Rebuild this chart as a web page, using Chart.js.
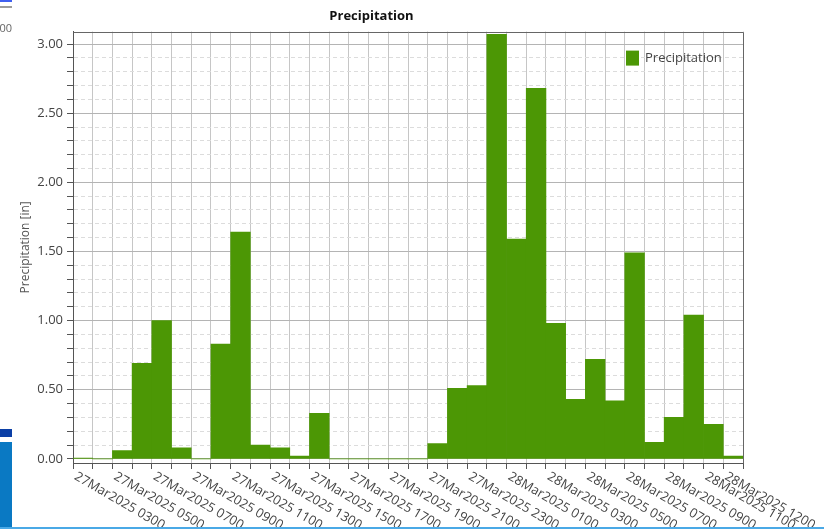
<!DOCTYPE html>
<html lang="en">
<head>
  <meta charset="UTF-8" />
  <title>Precipitation</title>
  <script src="https://cdn.jsdelivr.net/npm/chart.js"></script>
  <style>
    body {
      margin: 0;
      padding: 0;
      background: #fff;
      width: 824px;
      height: 529px;
      overflow: hidden;
      position: relative;
      font-family: 'Open Sans', sans-serif;
    }
    #wrap {
      position: absolute;
      left: 0;
      top: 0;
      width: 816px;
      height: 529px;
    }
    /* bits of neighbouring windows visible in the screenshot */
    .edge { position: absolute; }
    #edgeTopBlue { left: 0; top: 0; width: 12px; height: 2px; background: #3f5ff0; }
    #edgeTopGray { left: 0; top: 6px; width: 12px; height: 2px; background: #9c9c9c; }
    #edgeText { left: 0; top: 20px; width: 12px; overflow: hidden; font-size: 11px; color: #666; direction: rtl; }
    #edgeDark { left: 0; top: 429px; width: 12px; height: 8px; background: #0b3fa6; }
    #edgeBlue { left: 0; top: 442px; width: 12px; height: 87px; background: #0a79c3; }
    #edgeBottom { left: 0; top: 527px; width: 824px; height: 2px; background: #4aa9e6; }
  </style>
</head>
<body>
  <div id="wrap"><canvas id="precipChart"></canvas></div>

  <div class="edge" id="edgeTopBlue"></div>
  <div class="edge" id="edgeTopGray"></div>
  <div class="edge" id="edgeText">00</div>
  <div class="edge" id="edgeDark"></div>
  <div class="edge" id="edgeBlue"></div>
  <div class="edge" id="edgeBottom"></div>

  <script>
    // hour boundaries; bar i covers hourMarks[i] .. hourMarks[i+1]
    const hourMarks = [
      '27Mar2025 0200', '27Mar2025 0300', '27Mar2025 0400', '27Mar2025 0500', '27Mar2025 0600',
      '27Mar2025 0700', '27Mar2025 0800', '27Mar2025 0900', '27Mar2025 1000', '27Mar2025 1100',
      '27Mar2025 1200', '27Mar2025 1300', '27Mar2025 1400', '27Mar2025 1500', '27Mar2025 1600',
      '27Mar2025 1700', '27Mar2025 1800', '27Mar2025 1900', '27Mar2025 2000', '27Mar2025 2100',
      '27Mar2025 2200', '27Mar2025 2300', '28Mar2025 0000', '28Mar2025 0100', '28Mar2025 0200',
      '28Mar2025 0300', '28Mar2025 0400', '28Mar2025 0500', '28Mar2025 0600', '28Mar2025 0700',
      '28Mar2025 0800', '28Mar2025 0900', '28Mar2025 1000', '28Mar2025 1100', '28Mar2025 1200'
    ];

    const labeledHours = [
      '27Mar2025 0300', '27Mar2025 0500', '27Mar2025 0700', '27Mar2025 0900', '27Mar2025 1100',
      '27Mar2025 1300', '27Mar2025 1500', '27Mar2025 1700', '27Mar2025 1900', '27Mar2025 2100',
      '27Mar2025 2300', '28Mar2025 0100', '28Mar2025 0300', '28Mar2025 0500', '28Mar2025 0700',
      '28Mar2025 0900', '28Mar2025 1100', '28Mar2025 1200'
    ];

    const precipitation = [
      0.005, 0, 0.06, 0.69, 1.00, 0.08, 0, 0.83, 1.64, 0.10,
      0.08, 0.02, 0.33, 0, 0, 0, 0, 0, 0.11, 0.51,
      0.53, 3.07, 1.59, 2.68, 0.98, 0.43, 0.72, 0.42, 1.49, 0.12,
      0.30, 1.04, 0.25, 0.02
    ];

    const yTicks = { min: -0.03, max: 3.09, minor: 0.1, major: 0.5 };

    const barColor = '#4c9705';

    const isMajor = v => Math.abs(v / yTicks.major - Math.round(v / yTicks.major)) < 1e-6;

    // x labels start at the tick and run down to the right; legend sits inside the plot
    const extras = {
      id: 'extras',
      afterDraw(chart) {
        const xs = chart.scales.x;
        const ctx = chart.ctx;
        const a = chart.chartArea;
        ctx.save();
        ctx.font = '13px "Open Sans", sans-serif';
        ctx.fillStyle = '#444';
        ctx.textAlign = 'left';
        ctx.textBaseline = 'top';
        xs.ticks.forEach(t => {
          const name = hourMarks[t.value];
          if (!labeledHours.includes(name)) return;
          const px = xs.getPixelForValue(t.value);
          ctx.save();
          ctx.translate(px - 14, xs.top + 7);
          ctx.rotate(Math.PI / 6);
          ctx.fillText(name, 0, 0);
          ctx.restore();
        });

        // top and right frame
        ctx.strokeStyle = '#666';
        ctx.lineWidth = 1;
        ctx.beginPath();
        ctx.moveTo(Math.round(a.left) + 0.5, Math.round(a.top) + 0.5);
        ctx.lineTo(Math.round(a.right) + 0.5, Math.round(a.top) + 0.5);
        ctx.lineTo(Math.round(a.right) + 0.5, Math.round(a.bottom) + 0.5);
        ctx.stroke();

        // legend
        const ds = chart.data.datasets[0];
        const lx = a.right - 117;
        const ly = a.top + 19;
        ctx.fillStyle = ds.backgroundColor;
        ctx.fillRect(lx, ly, 13, 15);
        ctx.fillStyle = '#444';
        ctx.textBaseline = 'middle';
        ctx.fillText(ds.label, lx + 19, ly + 8);
        ctx.restore();
      }
    };

    new Chart(document.getElementById('precipChart'), {
      type: 'bar',
      data: {
        datasets: [{
          label: 'Precipitation',
          data: precipitation.map((v, i) => ({ x: i + 0.5, y: v })),
          backgroundColor: barColor,
          borderWidth: 0,
          barPercentage: 1,
          categoryPercentage: 1
        }]
      },
      options: {
        responsive: true,
        maintainAspectRatio: false,
        animation: false,
        layout: { padding: { left: 0, top: 0, right: 73, bottom: 0 } },
        plugins: {
          title: {
            display: true,
            text: 'Precipitation',
            color: '#111',
            font: { family: 'Open Sans', size: 13, weight: 'bold' },
            padding: { top: 8, bottom: 8 }
          },
          legend: { display: false },
          tooltip: { enabled: false }
        },
        scales: {
          x: {
            type: 'linear',
            min: 0,
            max: hourMarks.length - 1,
            offset: false,
            grid: { offset: false, color: '#c6c6c6', tickColor: '#555', tickLength: 6 },
            border: { color: '#555' },
            ticks: { stepSize: 1, autoSkip: false, display: false },
            afterFit(scale) { scale.height = 66; }
          },
          y: {
            min: yTicks.min,
            max: yTicks.max,
            grid: {
              color: c => (c.tick && isMajor(c.tick.value)) ? '#b4b4b4' : '#dcdcdc',
              tickColor: '#555',
              tickLength: 6
            },
            border: {
              color: '#555',
              dash: c => (c.tick && !isMajor(c.tick.value)) ? [4, 3] : []
            },
            ticks: {
              stepSize: yTicks.minor,
              includeBounds: false,
              autoSkip: false,
              padding: 4,
              color: '#444',
              font: { family: 'Open Sans', size: 13 },
              callback: v => isMajor(v) ? v.toFixed(2) : ''
            },
            title: {
              display: true,
              text: 'Precipitation [in]',
              color: '#555',
              font: { family: 'Open Sans', size: 12 },
              padding: { top: 18, bottom: 0 }
            },
            afterFit(scale) { scale.width = 73; }
          }
        }
      },
      plugins: [extras]
    });
  </script>
</body>
</html>
